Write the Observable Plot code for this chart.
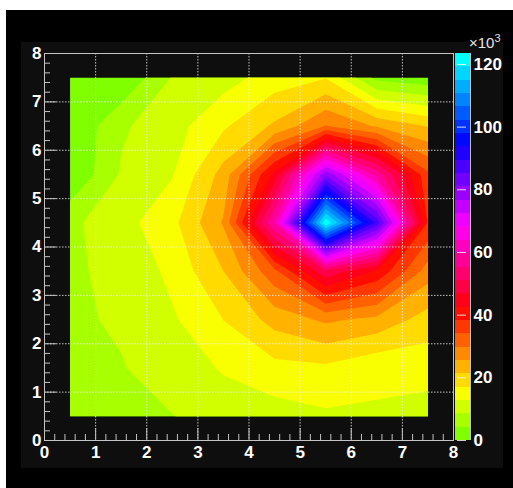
<!DOCTYPE html>
<html><head><meta charset="utf-8">
<script src="https://cdn.jsdelivr.net/npm/d3@7"></script>
<script src="https://cdn.jsdelivr.net/npm/@observablehq/plot@0.6"></script>
<style>
html,body{margin:0;padding:0;background:#fff;}
#wrap{position:relative;width:513px;height:488px;overflow:hidden;background:#fff;}
#bg1{position:absolute;left:6px;top:10px;width:507px;height:478px;background:#000;}
#bg2{position:absolute;left:21px;top:42px;width:482px;height:426px;background:#0e0e0e;}
#main,#bar{position:absolute;top:0;}
#main{left:0}
#bar{left:455px}
#mult{position:absolute;left:469px;top:35px;color:#e6e6e6;font:15px "Liberation Sans",Arial,sans-serif;line-height:16px;}
#mult sup{font-size:11px;vertical-align:6px;line-height:0;}
</style></head><body>
<div id="wrap"><div id="bg1"></div><div id="bg2"></div><div id="main"></div><div id="bar"></div><div id="mult">×10<sup>3</sup></div></div>
<script>
// bin contents (in units of 10^3), rows from top (y = 7.5) to bottom (y = 0.5), columns x = 0.5 .. 7.5
const row75 = [0.5, 0.3, 8.8, 11.0, 14.8, 16.8, 3.0, 1.2];
const row65 = [0.1, 7.9, 11.0, 16.4, 22.0, 30.0, 25.0, 21.0];
const row55 = [0.2, 9.0, 12.5, 23.0, 44.0, 80.0, 58.0, 35.0];
const row45 = [7.6, 11.2, 15.8, 26.0, 60.0, 123.2, 88.0, 38.0];
const row35 = [8.3, 8.9, 14.0, 21.3, 33.0, 50.0, 42.0, 27.7];
const row25 = [7.9, 9.0, 12.2, 17.1, 22.9, 26.4, 24.4, 19.4];
const row15 = [7.0, 8.3, 10.4, 13.2, 15.7, 16.2, 13.7, 14.4];
const row05 = [6.0, 7.0, 8.4, 10.5, 10.8, 12.1, 12.3, 11.0];

const axisTicks = [0, 1, 2, 3, 4, 5, 6, 7, 8];
const gridTicks = [1, 2, 3, 4, 5, 6, 7];
const paletteTicks = [0, 20, 40, 60, 80, 100, 120];
const zMax = 123.5;
const nBands = 29;

const values = [row75, row65, row55, row45, row35, row25, row15, row05].flat();
const levels = d3.range(nBands + 1).map(k => k * zMax / nBands);
const colors = d3.range(nBands).map(k => d3.hsl(90 - 270 * k / (nBands - 1), 1, 0.5).formatHex());
const minorTicks = d3.range(0, 40).map(k => k / 5).filter(v => v % 1 !== 0);

const axisGrey = "#c4c4c4";
const baseStyle = {background: "transparent", color: "white", fontFamily: "'Liberation Sans', Arial, sans-serif", fontSize: "17px", fontWeight: "bold", overflow: "visible"};

const main = Plot.plot({
  width: 513, height: 488,
  marginLeft: 44, marginRight: 60, marginTop: 53, marginBottom: 48,
  style: baseStyle,
  x: {domain: [0, 8]},
  y: {domain: [0, 8]},
  color: {type: "threshold", domain: levels.slice(1, nBands), range: colors},
  marks: [
    Plot.contour(values, {width: 8, height: 8, x1: 0, y1: 8, x2: 8, y2: 0,
      thresholds: levels.slice(0, nBands), fill: Plot.identity, stroke: "none"}),
    Plot.ruleX(gridTicks, {x: d => d, stroke: "#f2f2f2", strokeOpacity: 0.8, strokeDasharray: "1.5,1.5"}),
    Plot.ruleY(gridTicks, {y: d => d, stroke: "#f2f2f2", strokeOpacity: 0.8, strokeDasharray: "1.5,1.5"}),
    Plot.ruleX(axisTicks, {x: d => d, y1: 0, y2: 0, insetTop: -12, stroke: axisGrey}),
    Plot.ruleX(minorTicks, {x: d => d, y1: 0, y2: 0, insetTop: -6, stroke: axisGrey}),
    Plot.ruleY(axisTicks, {y: d => d, x1: 0, x2: 0, insetRight: -12, stroke: axisGrey}),
    Plot.ruleY(minorTicks, {y: d => d, x1: 0, x2: 0, insetRight: -6, stroke: axisGrey}),
    Plot.frame({stroke: axisGrey}),
    Plot.axisX(axisTicks, {anchor: "bottom", tickSize: 0, tickPadding: 5, label: null}),
    Plot.axisY(axisTicks, {anchor: "left", tickSize: 0, tickPadding: 3, label: null})
  ]
});

// clip the filled contours to the bin-centre area [0.5, 7.5] x [0.5, 7.5]
{
  const xs = main.scale("x"), ys = main.scale("y");
  const xa = xs.apply(0.5), xb = xs.apply(7.5), ya = ys.apply(7.5), yb = ys.apply(0.5);
  const ns = "http://www.w3.org/2000/svg";
  const defs = document.createElementNS(ns, "defs");
  const cp = document.createElementNS(ns, "clipPath");
  cp.setAttribute("id", "binclip");
  const r = document.createElementNS(ns, "rect");
  r.setAttribute("x", xa); r.setAttribute("y", ya);
  r.setAttribute("width", xb - xa); r.setAttribute("height", yb - ya);
  cp.appendChild(r); defs.appendChild(cp);
  main.insertBefore(defs, main.firstChild);
  const g = main.querySelector('g[aria-label="contour"]');
  if (g) g.setAttribute("clip-path", "url(#binclip)");
}
document.getElementById("main").appendChild(main);

const bar = Plot.plot({
  width: 58, height: 488,
  marginLeft: 0, marginRight: 43, marginTop: 53, marginBottom: 48,
  style: baseStyle,
  x: {domain: [0, 1], axis: null},
  y: {domain: [0, zMax]},
  marks: [
    Plot.rect(d3.range(nBands), {x1: 0, x2: 1, y1: k => levels[k], y2: k => levels[k + 1], fill: k => colors[k], shapeRendering: "crispEdges"}),
    Plot.ruleY(paletteTicks, {y: d => d, x1: 0, x2: 1, insetLeft: 2, insetRight: 4, stroke: "white", strokeOpacity: 0.8}),
    Plot.ruleX([1], {stroke: axisGrey}),
    Plot.axisY(paletteTicks, {anchor: "right", tickSize: 0, tickPadding: 3, label: null})
  ]
});
document.getElementById("bar").appendChild(bar);
</script>
</body></html>
